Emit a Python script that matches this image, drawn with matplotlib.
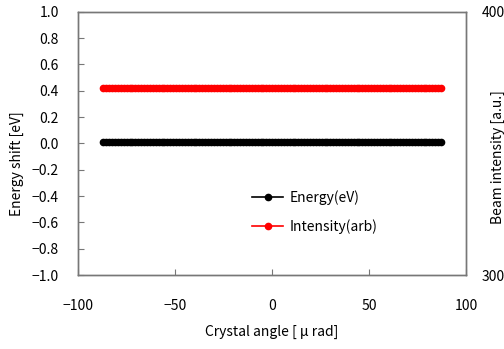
import matplotlib
matplotlib.use("Agg")
import matplotlib.pyplot as plt

plt.rcParams['font.family'] = ['Noto Sans CJK JP', 'DejaVu Sans']
plt.rcParams['axes.unicode_minus'] = True

# crystal angle grid [urad]
angle = [-87.0, -85.5, -84.0, -82.5, -81.0, -79.5, -78.0, -76.5, -75.0, -73.5,
         -72.0, -70.5, -69.0, -67.5, -66.0, -64.5, -63.0, -61.5, -60.0, -58.5,
         -57.0, -55.5, -54.0, -52.5, -51.0, -49.5, -48.0, -46.5, -45.0, -43.5,
         -42.0, -40.5, -39.0, -37.5, -36.0, -34.5, -33.0, -31.5, -30.0, -28.5,
         -27.0, -25.5, -24.0, -22.5, -21.0, -19.5, -18.0, -16.5, -15.0, -13.5,
         -12.0, -10.5, -9.0, -7.5, -6.0, -4.5, -3.0, -1.5, 0.0,
         1.5, 3.0, 4.5, 6.0, 7.5, 9.0, 10.5, 12.0, 13.5, 15.0,
         16.5, 18.0, 19.5, 21.0, 22.5, 24.0, 25.5, 27.0, 28.5, 30.0,
         31.5, 33.0, 34.5, 36.0, 37.5, 39.0, 40.5, 42.0, 43.5, 45.0,
         46.5, 48.0, 49.5, 51.0, 52.5, 54.0, 55.5, 57.0, 58.5, 60.0,
         61.5, 63.0, 64.5, 66.0, 67.5, 69.0, 70.5, 72.0, 73.5, 75.0,
         76.5, 78.0, 79.5, 81.0, 82.5, 84.0, 85.5, 87.0]
# flat responses
energy = [0.01] * len(angle)      # eV
intensity = [371.0] * len(angle)  # a.u.

x_ticks = [-100, -50, 0, 50, 100]
y_ticks = [-1.0, -0.8, -0.6, -0.4, -0.2, 0.0, 0.2, 0.4, 0.6, 0.8, 1.0]

fig = plt.figure(figsize=(5.04, 3.49), dpi=100)
ax = fig.add_axes([0.155, 0.212, 0.77, 0.754])
ax2 = ax.twinx()

l1, = ax.plot(angle, energy, color='black', marker='o', ms=4.5, lw=1.2,
              label='Energy(eV)')
l2, = ax2.plot(angle, intensity, color='red', marker='o', ms=4.5, lw=1.2,
               label='Intensity(arb)')

ax.set_xlim(-100, 100)
ax.set_ylim(-1.0, 1.0)
ax2.set_ylim(300, 400)
ax.set_xticks(x_ticks)
ax.set_yticks(y_ticks)
ax.set_yticklabels([f"{v:.1f}".replace('-', '\u2212') for v in y_ticks])
ax2.set_yticks([300, 400])

ax.tick_params(axis='y', direction='in', length=4, pad=14, labelsize=10, color='#777777')
ax.tick_params(axis='x', direction='in', length=4, pad=17, labelsize=10, color='#777777')
ax2.tick_params(axis='y', length=0, pad=11, labelsize=10)

for a in (ax, ax2):
    for s in a.spines.values():
        s.set_color('#777777')
        s.set_linewidth(1.0)

ax.set_xlabel('Crystal angle [ \u03bc rad]', fontsize=10, labelpad=9)
fig.text(0.034, 0.53, 'Energy shift [eV]', rotation=90, fontsize=10,
         ha='center', va='center')
fig.text(0.988, 0.55, 'Beam intensity [a.u.]', rotation=90, fontsize=10,
         ha='center', va='center')

fig.legend(handles=[l1, l2], loc='upper left', bbox_to_anchor=(0.476, 0.49),
           frameon=False, fontsize=10, labelspacing=1.0, handlelength=2.2,
           handletextpad=0.5)

fig.savefig('out.png', dpi=100)
